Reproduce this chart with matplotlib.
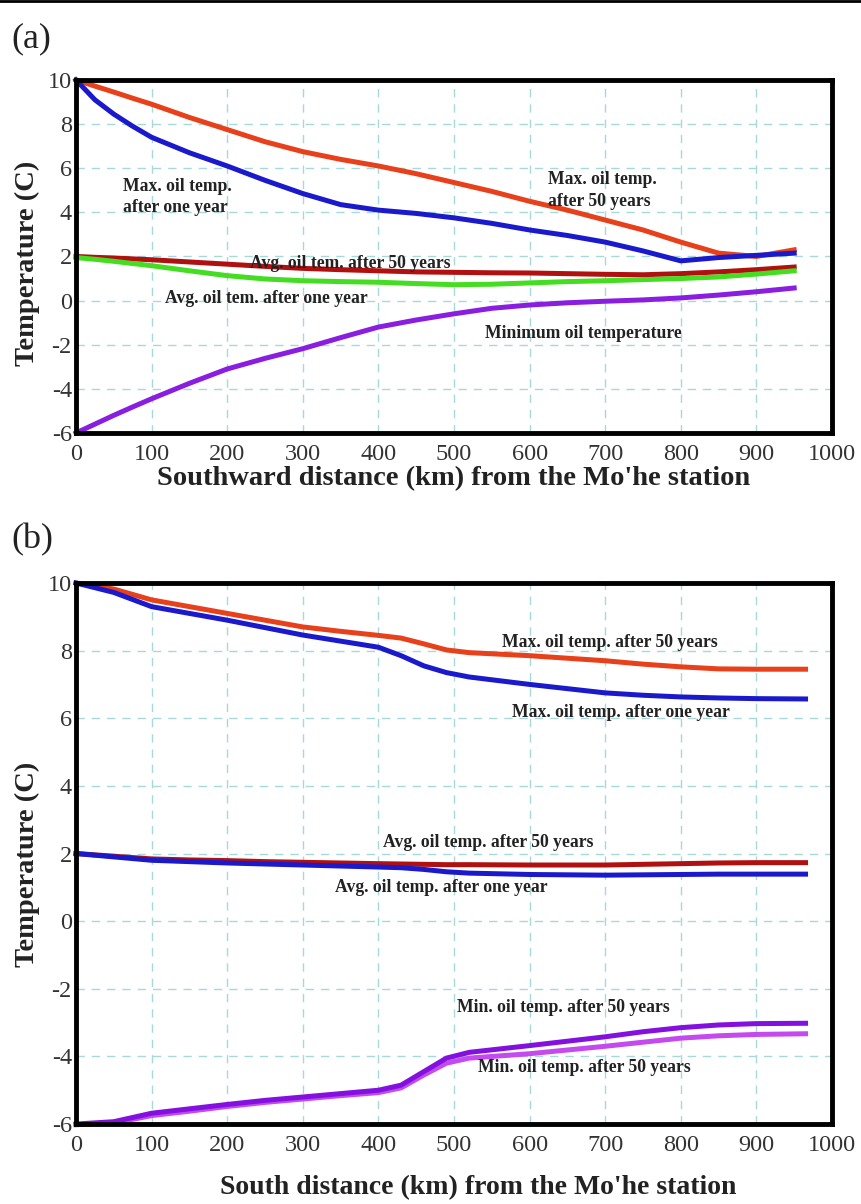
from matplotlib import pyplot as plt

plt.rcParams['font.family'] = ['Liberation Serif', 'DejaVu Serif']
plt.rcParams['axes.unicode_minus'] = False

# ---- (a) data ----
dist_a = [0, 25, 50, 75, 100, 150, 200, 250, 300, 350, 400, 450, 500, 550, 600, 650, 700, 750, 800, 850, 900, 950]
max50_a = [10, 9.72, 9.45, 9.17, 8.9, 8.3, 7.75, 7.2, 6.75, 6.4, 6.1, 5.75, 5.35, 4.95, 4.5, 4.1, 3.65, 3.2, 2.65, 2.15, 2.0, 2.3]
max1_a = [10, 9.1, 8.45, 7.9, 7.4, 6.7, 6.1, 5.45, 4.85, 4.35, 4.1, 3.95, 3.75, 3.5, 3.2, 2.95, 2.65, 2.25, 1.8, 1.95, 2.05, 2.15]
avg50_a = [2.0, 1.96, 1.93, 1.89, 1.85, 1.75, 1.65, 1.55, 1.46, 1.4, 1.35, 1.3, 1.28, 1.26, 1.25, 1.22, 1.19, 1.17, 1.22, 1.3, 1.4, 1.52]
avg1_a = [1.95, 1.87, 1.78, 1.68, 1.58, 1.35, 1.13, 0.98, 0.9, 0.86, 0.83, 0.77, 0.72, 0.74, 0.8, 0.86, 0.9, 0.95, 1.0, 1.07, 1.2, 1.35]
min_a = [-6, -5.6, -5.2, -4.82, -4.45, -3.75, -3.1, -2.62, -2.18, -1.68, -1.2, -0.88, -0.6, -0.35, -0.2, -0.1, -0.03, 0.03, 0.12, 0.25, 0.4, 0.57]

# ---- (b) data ----
dist_b = [0, 50, 100, 150, 200, 250, 300, 350, 400, 430, 460, 490, 520, 600, 700, 750, 800, 850, 900, 965]
max50_b = [10, 9.82, 9.5, 9.3, 9.1, 8.9, 8.7, 8.57, 8.45, 8.37, 8.2, 8.02, 7.94, 7.85, 7.7, 7.6, 7.52, 7.46, 7.45, 7.45]
max1_b = [10, 9.72, 9.3, 9.1, 8.9, 8.68, 8.46, 8.28, 8.1, 7.85, 7.55, 7.35, 7.22, 7.0, 6.75, 6.68, 6.63, 6.6, 6.58, 6.57]
avg50_b = [2.0, 1.92, 1.84, 1.81, 1.79, 1.76, 1.74, 1.72, 1.7, 1.69, 1.68, 1.67, 1.67, 1.66, 1.66, 1.68, 1.7, 1.72, 1.73, 1.73]
avg1_b = [2.0, 1.9, 1.8, 1.76, 1.72, 1.69, 1.66, 1.63, 1.6, 1.58, 1.53, 1.46, 1.42, 1.38, 1.36, 1.37, 1.38, 1.39, 1.39, 1.39]
min50_up_b = [-6, -5.93, -5.68, -5.55, -5.42, -5.3, -5.2, -5.1, -5.0, -4.85, -4.45, -4.05, -3.88, -3.68, -3.42, -3.27, -3.15, -3.07, -3.03, -3.02]
min50_lo_b = [-6.02, -5.97, -5.75, -5.62, -5.48, -5.36, -5.26, -5.16, -5.07, -4.93, -4.55, -4.2, -4.05, -3.92, -3.7, -3.58, -3.46, -3.39, -3.35, -3.33]

x_ticks = list(range(0, 1001, 100))
y_ticks = list(range(-6, 11, 2))

fig = plt.figure(figsize=(8.61, 12.04), dpi=100)
ax1 = fig.add_axes([0.0883, 0.6404, 0.878, 0.2932])
ax2 = fig.add_axes([0.0883, 0.0664, 0.878, 0.4494])

# border line at the very top of the image
fig.add_artist(plt.Line2D([0, 1], [0.999, 0.999], color='black', lw=2, transform=fig.transFigure))

lw = 3.6
ax1.plot(dist_a, max50_a, color='#e8401a', lw=lw, clip_on=False)
ax1.plot(dist_a, max1_a, color='#1a1acc', lw=lw, clip_on=False)
ax1.plot(dist_a, avg50_a, color='#b01010', lw=lw, clip_on=False)
ax1.plot(dist_a, avg1_a, color='#44dd22', lw=lw, clip_on=False)
ax1.plot(dist_a, min_a, color='#8a1ee0', lw=lw, clip_on=False)

ax2.plot(dist_b, max50_b, color='#e8401a', lw=lw, clip_on=False)
ax2.plot(dist_b, max1_b, color='#1a1acc', lw=lw, clip_on=False)
ax2.plot(dist_b, avg50_b, color='#b01010', lw=lw, clip_on=False)
ax2.plot(dist_b, avg1_b, color='#1a1acc', lw=lw, clip_on=False)
ax2.plot(dist_b, min50_lo_b, color='#c44af0', lw=lw, clip_on=False)
ax2.plot(dist_b, min50_up_b, color='#8410e0', lw=lw, clip_on=False)

tkw = dict(fontsize=12.7, fontweight='bold', color='#222222', va='center', ha='left')
ax1.text(62, 4.7, "Max. oil temp.\nafter one year", linespacing=1.35, **tkw)
ax1.text(624, 4.98, "Max. oil temp.\nafter 50 years", linespacing=1.35, **tkw)
ax1.text(230, 1.7, "Avg. oil tem. after 50 years", **tkw)
ax1.text(118, 0.1, "Avg. oil tem. after one year", **tkw)
ax1.text(541, -1.47, "Minimum oil temperature", **tkw)

ax2.text(563, 8.25, "Max. oil temp. after 50 years", **tkw)
ax2.text(577, 6.18, "Max. oil temp. after one year", **tkw)
ax2.text(406, 2.34, "Avg. oil temp. after 50 years", **tkw)
ax2.text(343, 1.0, "Avg. oil temp. after one year", **tkw)
ax2.text(504, -2.54, "Min. oil temp. after 50 years", **tkw)
ax2.text(532, -4.32, "Min. oil temp. after 50 years", **tkw)

for ax, xl, xs, xx, xy in [(ax1, "Southward distance (km) from the Mo'he station", 20.5, 0.5, -0.128),
                           (ax2, "South distance (km) from the Mo'he station", 20, 0.532, -0.118)]:
    ax.set_xlim(0, 1000)
    ax.set_ylim(-6, 10)
    ax.set_xticks(x_ticks)
    ax.set_yticks(y_ticks)
    ax.tick_params(length=0, labelsize=17.5, colors='#333333')
    ax.tick_params(axis='x', pad=8)
    ax.tick_params(axis='y', pad=3)
    ax.grid(color='#a6dada', linestyle=(0, (6, 5)), linewidth=1)
    for s in ax.spines.values():
        s.set_linewidth(3.5)
        s.set_color('black')
    ax.set_xlabel(xl, fontsize=xs, fontweight='bold', va='center', color='#222222')
    ax.xaxis.set_label_coords(xx, xy)
    ax.set_ylabel("Temperature (C)", fontsize=20.5, fontweight='bold', va='center', color='#222222')
    ax.yaxis.set_label_coords(-0.064, 0.48)

fig.text(0.013, 0.968, "(a)", fontsize=26, va='center', ha='left', color='#222222')
fig.text(0.013, 0.5515, "(b)", fontsize=26, va='center', ha='left', color='#222222')

plt.savefig("out.png")
